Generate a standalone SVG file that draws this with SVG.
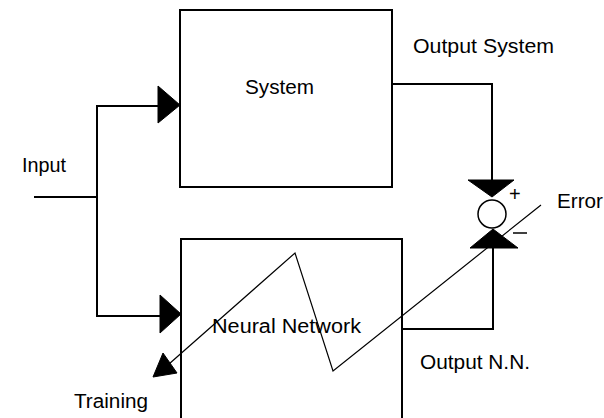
<svg xmlns="http://www.w3.org/2000/svg" width="604" height="418" viewBox="0 0 604 418">
  <style>
    .box { fill: none; stroke: #000; stroke-width: 2; }
    .wire { fill: none; stroke: #000; stroke-width: 2; }
    .thin { fill: none; stroke: #000; stroke-width: 1.2; }
    .head { fill: #000; stroke: #000; stroke-width: 1; stroke-linejoin: round; }
    .lbl { font-family: "Liberation Sans", Arial, sans-serif; font-size: 20px; fill: #000; }
  </style>
  <rect width="604" height="418" fill="#fff"/>

  <!-- plant block -->
  <g id="system">
    <rect class="box" x="180" y="10" width="212" height="177"/>
    <text class="lbl" x="245" y="94" textLength="69" lengthAdjust="spacingAndGlyphs">System</text>
  </g>

  <!-- model block -->
  <g id="neural-network">
    <rect class="box" x="181" y="239" width="221" height="185"/>
    <text class="lbl" x="212" y="333" textLength="149" lengthAdjust="spacingAndGlyphs">Neural Network</text>
  </g>

  <!-- summing junction -->
  <g id="comparator">
    <circle cx="492" cy="214" r="14" fill="none" stroke="#000" stroke-width="1.5"/>
    <text class="lbl" x="509" y="201" font-size="21">+</text>
    <line x1="513" y1="233" x2="527" y2="233" stroke="#000" stroke-width="1.5"/>
  </g>

  <g id="connectors">
    <!-- input split -->
    <polyline class="wire" points="34,197 97,197"/>
    <polyline class="wire" points="160,106 97,106 97,316 160,316"/>
    <polygon class="head" points="158,86 180,105 158,123"/>
    <polygon class="head" points="160,295 181,314 160,333"/>

    <!-- plant output to junction -->
    <polyline class="wire" points="392,84 492,84 492,181"/>
    <polygon class="head" points="468,180 514,180 492,197"/>

    <!-- model output to junction -->
    <polyline class="wire" points="402,329 493,329 493,247"/>
    <polygon class="head" points="470,248 518,248 493,229"/>

    <!-- training signal -->
    <polyline class="thin" points="541,205 333,371 295,253 169,364"/>
    <polygon class="head" points="153,377 163,353 177,373"/>
  </g>

  <g id="labels">
    <text class="lbl" x="22" y="172" textLength="44" lengthAdjust="spacingAndGlyphs">Input</text>
    <text class="lbl" x="413" y="53" textLength="141" lengthAdjust="spacingAndGlyphs">Output System</text>
    <text class="lbl" x="557" y="208" textLength="46" lengthAdjust="spacingAndGlyphs">Error</text>
    <text class="lbl" x="420" y="369" textLength="110" lengthAdjust="spacingAndGlyphs">Output N.N.</text>
    <text class="lbl" x="74" y="408" textLength="74" lengthAdjust="spacingAndGlyphs">Training</text>
  </g>
</svg>
